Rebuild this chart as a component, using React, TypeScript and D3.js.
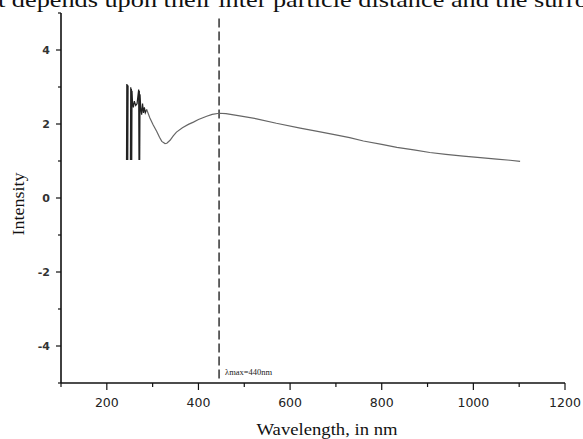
import * as d3 from "d3";

// spectrum (nm, intensity); null = gap in the trace
const wavelengths = [
  243, 243.6, 244.3, 245, 245.7, 246.4, 247, 251.5, 252.2, 252.9, 253.6, 254.4,
  255, 256, 258, 260, 263, 266, 269.5, 270.2, 271, 271.8, 272.5, 274, 276, 278,
  280, 282, 284, 287, 294, 301, 309, 315, 320, 327, 331, 338, 345, 352, 365, 378,
  389, 400, 418, 430, 445, 460, 490, 527, 570, 622, 660, 694, 730, 760, 800, 833,
  870, 905, 940, 978, 1015, 1051, 1080, 1102,
];
const intensity: (number | null)[] = [
  1.03, 3.08, 1.03, 3.06, 1.03, 3.04, null, 1.03, 2.99, 1.03, 2.95, 1.03, 2.9,
  2.6, 2.45, 2.62, 2.5, 2.55, 2.93, 1.03, 2.9, 1.03, 2.8, 2.45, 2.25, 2.55, 2.3,
  2.45, 2.3, 2.39, 2.16, 1.98, 1.8, 1.64, 1.53, 1.47, 1.48, 1.56, 1.68, 1.78,
  1.9, 1.99, 2.05, 2.12, 2.21, 2.26, 2.29, 2.28, 2.22, 2.14, 2.02, 1.89, 1.8,
  1.72, 1.63, 1.54, 1.45, 1.37, 1.3, 1.23, 1.18, 1.13, 1.09, 1.05, 1.02, 0.99,
];
// noisy start of the scan ends here (nm)
const noiseEnd = 287;

const xMajor = [200, 400, 600, 800, 1000, 1200];
const xMinor = [100, 300, 500, 700, 900, 1100];
const yMajor = [-4, -2, 0, 2, 4];
const yMinor = [-5, -3, -1, 1, 3, 5];

const peakNm = 445;
const peakLabel = "\u03bbmax=440nm";
const headerText = "t depends upon their inter particle distance and the surro";

const W = 583;
const H = 439;

type Pt = [number, number | null];

export default function App() {
  const x = d3.scaleLinear().domain([100, 1200]).range([61, 565]);
  const y = d3.scaleLinear().domain([-5, 5]).range([383, 13]);

  const pts: Pt[] = wavelengths.map((w, i) => [w, intensity[i]]);
  const noisy = pts.filter((d) => d[0] <= noiseEnd);
  const smooth = pts.filter((d) => d[0] >= noiseEnd);
  const line = d3
    .line<Pt>()
    .defined((d) => d[1] != null)
    .x((d) => x(d[0]))
    .y((d) => y(d[1] as number));

  const x0 = x.range()[0];
  const yBase = y.range()[0];

  return (
    <svg
      width={W}
      height={H}
      style={{ position: "absolute", left: 0, top: 0, background: "#fff" }}
    >
      <text
        x={-2}
        y={7}
        fontFamily="Liberation Serif"
        fontSize={22}
        textLength={590}
        lengthAdjust="spacingAndGlyphs"
        fill="#111"
      >
        {headerText}
      </text>

      {/* axes */}
      <line x1={x0} x2={x0} y1={y(5)} y2={yBase} stroke="#111" strokeWidth={1.6} />
      <line x1={x0} x2={x(1200)} y1={yBase} y2={yBase} stroke="#111" strokeWidth={1.6} />

      {yMajor.map((v) => (
        <g key={"ym" + v}>
          <line x1={x0 - 5} x2={x0} y1={y(v)} y2={y(v)} stroke="#111" strokeWidth={1.2} />
          <text
            x={x0 - 11}
            y={y(v)}
            dy="0.36em"
            textAnchor="end"
            fontFamily="DejaVu Sans"
            fontSize={11}
            fontWeight={600}
            fill="#333"
          >
            {String(v)}
          </text>
        </g>
      ))}
      {yMinor.map((v) => (
        <line key={"yn" + v} x1={x0 - 3} x2={x0} y1={y(v)} y2={y(v)} stroke="#111" strokeWidth={1.2} />
      ))}

      {xMajor.map((v) => (
        <g key={"xm" + v}>
          <line x1={x(v)} x2={x(v)} y1={yBase} y2={yBase + 7} stroke="#111" strokeWidth={1.2} />
          <text
            x={x(v)}
            y={yBase + 24}
            textAnchor="middle"
            fontFamily="DejaVu Sans"
            fontSize={12.5}
            fill="#222"
          >
            {String(v)}
          </text>
        </g>
      ))}
      {xMinor.map((v) => (
        <line key={"xn" + v} x1={x(v)} x2={x(v)} y1={yBase} y2={yBase + 4} stroke="#111" strokeWidth={1.2} />
      ))}

      {/* lambda max marker */}
      <line
        x1={x(peakNm)}
        x2={x(peakNm)}
        y1={y(4.85)}
        y2={y(-4.9)}
        stroke="#333"
        strokeWidth={1.5}
        strokeDasharray="9,4"
      />
      <text x={x(peakNm) + 6} y={y(-4.78)} fontFamily="Liberation Serif" fontSize={8.5} fill="#222">
        {peakLabel}
      </text>

      <path d={line(noisy) ?? ""} fill="none" stroke="#222" strokeWidth={1.2} />
      <path d={line(smooth) ?? ""} fill="none" stroke="#666" strokeWidth={1.2} />

      <text
        transform={`translate(24,204) rotate(-90)`}
        textAnchor="middle"
        fontFamily="Liberation Serif"
        fontSize={16}
        textLength={63}
        lengthAdjust="spacingAndGlyphs"
        fill="#111"
      >
        Intensity
      </text>
      <text
        x={327}
        y={435}
        textAnchor="middle"
        fontFamily="Liberation Serif"
        fontSize={17}
        textLength={141}
        lengthAdjust="spacingAndGlyphs"
        fill="#111"
      >
        Wavelength, in nm
      </text>
    </svg>
  );
}
